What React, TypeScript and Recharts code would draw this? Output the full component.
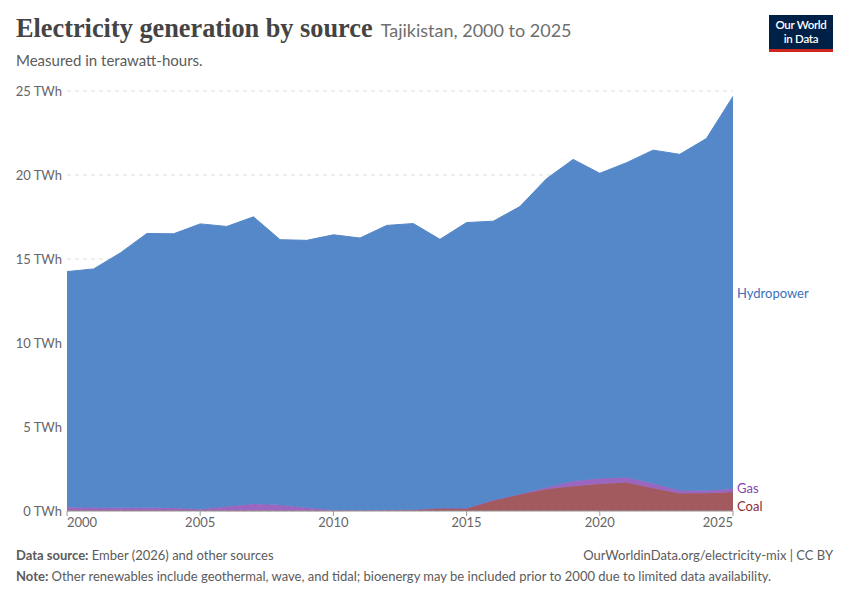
import { AreaChart, Area, XAxis, YAxis, CartesianGrid, ReferenceDot } from "recharts";

// Tajikistan electricity generation, TWh
const years = [
  2000, 2001, 2002, 2003, 2004, 2005, 2006, 2007, 2008, 2009, 2010, 2011, 2012,
  2013, 2014, 2015, 2016, 2017, 2018, 2019, 2020, 2021, 2022, 2023, 2024, 2025,
];
const coal = [
  0.03, 0.03, 0.03, 0.03, 0.03, 0.03, 0.02, 0.02, 0.02, 0.02, 0.02, 0.03, 0.05,
  0.06, 0.16, 0.15, 0.62, 0.98, 1.3, 1.47, 1.6, 1.7, 1.35, 1.04, 1.05, 1.11,
];
const gas = [
  0.2, 0.17, 0.16, 0.16, 0.15, 0.08, 0.25, 0.4, 0.33, 0.18, 0.02, 0.01, 0.01,
  0.01, 0.01, 0.01, 0.02, 0.02, 0.1, 0.3, 0.33, 0.3, 0.28, 0.18, 0.15, 0.22,
];
const hydro = [
  14.02, 14.21, 15.17, 16.33, 16.32, 16.98, 16.67, 17.09, 15.8, 15.91, 16.4,
  16.21, 16.94, 17.04, 16.0, 17.01, 16.61, 17.12, 18.38, 19.16, 18.17, 18.73,
  19.85, 20.01, 20.97, 23.35,
];
const yTicks = [0, 5, 10, 15, 20, 25];
const xTicks = [2000, 2005, 2010, 2015, 2020, 2025];

const data = years.map((year, i) => ({
  year,
  coal: coal[i],
  gas: gas[i],
  hydro: hydro[i],
}));

const COLORS = {
  hydro: "#5588c8",
  gas: "#9a66c0",
  coal: "#a25a5e",
};

const font = "Lato, 'Noto Sans', sans-serif";

const last = years.length - 1;
const lastYear = years[last];
const coalMid = coal[last] / 2;
const gasMid = coal[last] + gas[last] / 2;
const hydroMid = coal[last] + gas[last] + hydro[last] / 2;

const XTick = (props: any) => {
  const { x, y, payload } = props;
  const v = payload.value;
  const anchor = v === xTicks[0] ? "start" : v === xTicks[xTicks.length - 1] ? "end" : "middle";
  return (
    <text x={x} y={y} dy="0.71em" textAnchor={anchor} fill="#666" fontSize={13} fontFamily={font}>
      {v}
    </text>
  );
};

const EndLabel = (props: any) => {
  const { viewBox, text, color, dy } = props;
  const cx = viewBox.x + viewBox.width / 2;
  const cy = viewBox.y + viewBox.height / 2;
  return (
    <text x={cx + 4} y={cy + dy} dominantBaseline="central" fill={color} fontSize={13} fontFamily={font}>
      {text}
    </text>
  );
};

export default function App() {
  return (
    <div
      style={{
        position: "absolute",
        left: 0,
        top: 0,
        width: 850,
        height: 600,
        background: "#fff",
        fontFamily: font,
      }}
    >
      <div style={{ position: "absolute", left: 16, top: 14, whiteSpace: "nowrap" }}>
        <span
          style={{
            fontFamily: "'Liberation Serif', 'DejaVu Serif', serif",
            fontSize: 26.3,
            fontWeight: 700,
            color: "#444",
          }}
        >
          Electricity generation by source
        </span>
        <span style={{ fontSize: 18, color: "#6e6e6e", marginLeft: 8 }}>Tajikistan, 2000 to 2025</span>
      </div>
      <div style={{ position: "absolute", left: 16, top: 51, fontSize: 15, color: "#5b5b5b" }}>
        Measured in terawatt-hours.
      </div>

      <div
        style={{
          position: "absolute",
          left: 769,
          top: 15,
          width: 64,
          height: 37,
          background: "#002147",
          borderBottom: "3px solid #ce261e",
          boxSizing: "border-box",
          color: "#fff",
          fontSize: 11.5,
          lineHeight: "14px",
          fontWeight: 600,
          textAlign: "center",
          paddingTop: 3,
          letterSpacing: -0.3,
        }}
      >
        <div>Our World</div>
        <div>in Data</div>
      </div>

      <AreaChart
        width={850}
        height={600}
        data={data}
        margin={{ top: 91, right: 117, bottom: 0, left: 0 }}
        style={{ position: "absolute", left: 0, top: 0 }}
      >
        <CartesianGrid vertical={false} stroke="#ddd" strokeDasharray="4 4" />
        <XAxis
          dataKey="year"
          type="number"
          domain={[2000, 2025]}
          ticks={xTicks}
          height={89}
          tick={<XTick />}
          tickSize={5}
          tickMargin={2}
          axisLine={{ stroke: "#999" }}
          tickLine={{ stroke: "#999" }}
        />
        <YAxis
          domain={[0, 25]}
          ticks={yTicks}
          width={67}
          axisLine={false}
          tickLine={false}
          tickSize={3}
          tickMargin={2}
          tickFormatter={(v: number) => `${v} TWh`}
          tick={{ fill: "#666", fontSize: 13, fontFamily: font }}
        />
        <Area
          type="linear"
          dataKey="coal"
          stackId="1"
          stroke={COLORS.coal}
          fill={COLORS.coal}
          fillOpacity={1}
          isAnimationActive={false}
        />
        <Area
          type="linear"
          dataKey="gas"
          stackId="1"
          stroke={COLORS.gas}
          fill={COLORS.gas}
          fillOpacity={1}
          isAnimationActive={false}
        />
        <Area
          type="linear"
          dataKey="hydro"
          stackId="1"
          stroke={COLORS.hydro}
          fill={COLORS.hydro}
          fillOpacity={1}
          isAnimationActive={false}
        />
        <ReferenceDot
          x={lastYear}
          y={hydroMid}
          r={1}
          fill="none"
          stroke="none"
          label={<EndLabel text="Hydropower" color="#3b6fbd" dy={0} />}
        />
        <ReferenceDot
          x={lastYear}
          y={gasMid}
          r={1}
          fill="none"
          stroke="none"
          label={<EndLabel text="Gas" color="#8445b0" dy={-3} />}
        />
        <ReferenceDot
          x={lastYear}
          y={coalMid}
          r={1}
          fill="none"
          stroke="none"
          label={<EndLabel text="Coal" color="#8e2a36" dy={4} />}
        />
      </AreaChart>

      <div style={{ position: "absolute", left: 16, top: 547, fontSize: 13, color: "#5b5b5b" }}>
        <b style={{ fontWeight: 700 }}>Data source:</b> Ember (2026) and other sources
      </div>
      <div style={{ position: "absolute", right: 17, top: 547, fontSize: 13, color: "#5b5b5b" }}>
        OurWorldinData.org/electricity-mix | CC BY
      </div>
      <div style={{ position: "absolute", left: 16, top: 568, fontSize: 13, color: "#5b5b5b" }}>
        <b style={{ fontWeight: 700 }}>Note:</b> Other renewables include geothermal, wave, and tidal; bioenergy
        may be included prior to 2000 due to limited data availability.
      </div>
    </div>
  );
}
